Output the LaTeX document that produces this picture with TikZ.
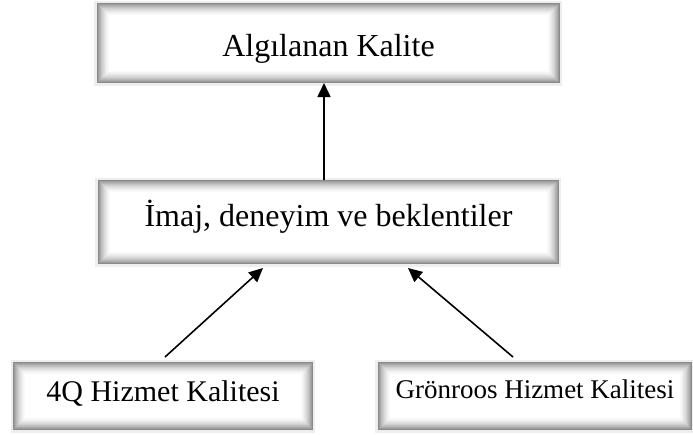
\documentclass[tikz,border=0pt]{standalone}
\usepackage{fontspec}
\setmainfont{Liberation Serif}
\usetikzlibrary{arrows.meta,positioning}
\definecolor{ink}{RGB}{0,0,0}
\definecolor{rim}{RGB}{238,238,238}

\begin{document}
\begin{tikzpicture}[
      x=1pt,y=1pt,
      every node/.style={text=ink},
      glowbox/.style={fill=white,outer sep=0pt,inner sep=0pt,
        preaction={draw=rim,line width=2.5pt},
        path picture={
          \foreach \k/\c in {0/46,1/39,2/33,3/28,4/23,5/19,6/15,7/12,8/9,9/6,10/4,11/2}
            \draw[black!\c,line width=0.6pt]
              ([shift={(\k*0.5+0.3,\k*0.5+0.3)}]path picture bounding box.south west)
              rectangle
              ([shift={(-\k*0.5-0.3,-\k*0.5-0.3)}]path picture bounding box.north east);
        }},
      link/.style={-{Triangle[length=7pt,width=6.5pt]},line width=0.8pt,ink}
    ]
      \useasboundingbox (0,0) rectangle (346.5,-217.5);

      \node[glowbox,minimum width=231.5pt,minimum height=40pt,
        text height=13pt,text depth=0pt,font=\fontsize{16}{19}\selectfont]
        (kalite) at (164.25,-21.5) {Algılanan Kalite};
      \node[glowbox,minimum width=230.5pt,minimum height=42pt,
        text height=12pt,text depth=7.5pt,font=\fontsize{16}{19}\selectfont,
        below=48.5pt of kalite]
        (imaj) {İmaj, deneyim ve beklentiler};
      \node[glowbox,minimum width=150pt,minimum height=34pt,
        text height=12pt,text depth=6.3pt,font=\fontsize{15}{18}\selectfont]
        (hizmet) at (81.5,-198) {4Q Hizmet Kalitesi};
      \node[glowbox,minimum width=157pt,minimum height=34pt,
        text height=11pt,text depth=8.7pt,font=\fontsize{13.5}{16}\selectfont]
        (gronroos) at (267.5,-198) {Grönroos Hizmet Kalitesi};

      \draw[link] ([xshift=-2.25pt]imaj.north) -- ([xshift=-2.25pt]kalite.south);
      \draw[link] ([xshift=1pt,yshift=2.5pt]hizmet.north)
        -- ([xshift=-32.75pt,yshift=-2pt]imaj.south);
      \draw[link] ([xshift=-11pt,yshift=2.5pt]gronroos.north)
        -- ([xshift=39.75pt,yshift=-2pt]imaj.south);
    \end{tikzpicture}
\end{document}
